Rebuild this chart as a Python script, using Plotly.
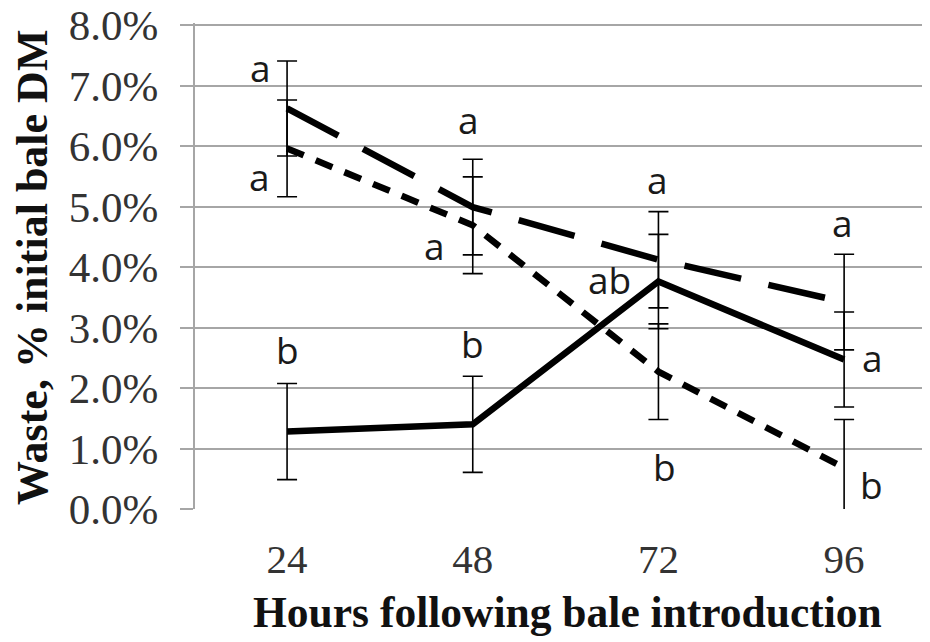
import plotly.graph_objects as go

hours = [24, 48, 72, 96]
tick_labels = ["24", "48", "72", "96"]

long_dash_vals = [6.62, 4.99, 4.12, 3.42]
long_dash_err = [0.785, 0.79, 0.795, 0.79]
short_dash_vals = [5.96, 4.69, 2.27, 0.68]
short_dash_err = [0.80, 0.80, 0.79, 0.80]
solid_vals = [1.28, 1.40, 3.76, 2.47]
solid_err = [0.795, 0.795, 0.78, 0.785]

y_tick_vals = [0, 1, 2, 3, 4, 5, 6, 7, 8]
y_tick_text = ["0.0%", "1.0%", "2.0%", "3.0%", "4.0%", "5.0%", "6.0%", "7.0%", "8.0%"]

letters_long = ["a", "a", "a", "a"]
letters_short = ["a", "a", "b", "b"]
letters_solid = ["b", "b", "ab", "a"]

# page has an 8px body margin; compensate so the plot lands where the reference has it
OFF = 8
L, R, T, B = 195 - OFF, 0, 23 - OFF, 133
W, H = 930 - OFF, 642 - OFF
plot_w = W - L - R
plot_h = H - T - B

def px_to_paper(px, py):
    # px, py are page pixels
    return (px - OFF - L) / plot_w, (H - B - (py - OFF)) / plot_h

fig = go.Figure()

def add_series(vals, errs, dash):
    fig.add_trace(go.Scatter(
        x=hours, y=vals, mode="lines",
        line=dict(color="black", width=6.5, dash=dash),
        error_y=dict(type="data", array=errs, visible=True, color="black",
                     thickness=1.6, width=10),
        showlegend=False, cliponaxis=True,
    ))

add_series(solid_vals, solid_err, "solid")
add_series(short_dash_vals, short_dash_err, "18px,13px")
add_series(long_dash_vals, long_dash_err, "58px,28px")

ann_font = dict(family="Open Sans", size=37, color="#1a1a1a")
long_pos = [(20.6, 7.29), (47.5, 6.43), (71.9, 5.44), (95.8, 4.74)]
short_pos = [(20.5, 5.49), (43.0, 4.36), (72.8, 0.70), (99.5, 0.40)]
solid_pos = [(24.0, 2.63), (48.0, 2.74), (65.7, 3.79), (99.7, 2.50)]
for labels, pos in [(letters_long, long_pos), (letters_short, short_pos), (letters_solid, solid_pos)]:
    for t, (x, y) in zip(labels, pos):
        fig.add_annotation(x=x, y=y, text=t, showarrow=False, font=ann_font,
                           xref="x", yref="y", xanchor="center", yanchor="middle")

tx, ty = px_to_paper(567, 612)
fig.add_annotation(x=tx, y=ty, xref="paper", yref="paper",
                   xanchor="center", yanchor="middle",
                   text="<b>Hours following bale introduction</b>",
                   showarrow=False, font=dict(family="Liberation Serif", size=43.5, color="#111"))
yx, yy = px_to_paper(32, 268)
fig.add_annotation(x=yx, y=yy, xref="paper", yref="paper",
                   xanchor="center", yanchor="middle",
                   text="<b>Waste, % initial bale DM</b>", textangle=-90,
                   showarrow=False, font=dict(family="Liberation Serif", size=44, color="#111"))

fig.update_layout(
    width=W, height=H,
    margin=dict(l=L, r=R, t=T, b=B, autoexpand=False),
    plot_bgcolor="white", paper_bgcolor="white",
    xaxis=dict(range=[12.1, 107.1], tickvals=hours, ticktext=tick_labels,
               showgrid=False, zeroline=False, showline=False, ticks="",
               automargin=False,
               tickfont=dict(family="Liberation Serif", size=41, color="#333"),
               ticklabelstandoff=22),
    yaxis=dict(range=[0, 8.033], tickvals=y_tick_vals, ticktext=y_tick_text,
               showgrid=True, gridcolor="#a6a6a6", gridwidth=2, automargin=False,
               zeroline=False, showline=True, linecolor="#a6a6a6", linewidth=2,
               ticks="outside", ticklen=13, tickcolor="#a6a6a6", tickwidth=2,
               ticklabeloverflow="allow",
               tickfont=dict(family="Liberation Serif", size=43, color="#333"),
               ticklabelstandoff=13),
)

fig.write_html("out.html")
